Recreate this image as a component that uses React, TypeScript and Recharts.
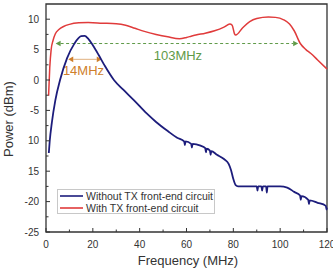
import { LineChart, Line, XAxis, YAxis, Legend, ReferenceArea, ReferenceLine } from "recharts"

// Spectrum without the TX front-end circuit (frequency MHz, power dBm)
const withoutFreq = [
  1.2, 1.6, 2.5, 4, 6, 9, 12, 15, 16.5, 18, 20, 22.5, 25, 29, 33, 37.5, 43, 47, 52, 56,
  59, 59.3, 59.6, 62, 62.3, 62.6, 66, 68, 68.3, 68.6, 70, 70.3, 70.6, 73, 76, 78, 79, 80, 81, 82,
  88, 90, 90.3, 90.6, 92, 92.3, 92.6, 94, 94.3, 94.6, 100, 103, 106, 108.5, 108.8, 109.1,
  112, 112.3, 112.6, 116, 119.5, 119.8, 120,
]
const withoutPower = [
  -12, -10, -7, -3.3, 0, 3.6, 5.9, 7.2, 7.25, 6.8, 5.7, 4.1, 2.4, 0, -1.6, -3.3, -5.5, -6.9, -8.4, -9.5,
  -10.1, -10.7, -10.1, -10.5, -11.1, -10.5, -10.8, -11.2, -11.9, -11.3, -11.6, -12.3, -11.7, -12.3, -13, -13.8, -14.8, -16.3, -17.3, -17.5,
  -17.5, -17.5, -18.2, -17.5, -17.5, -18.2, -17.5, -17.5, -18.5, -17.5, -17.5, -17.7, -18.4, -19, -19.7, -19.1,
  -19.7, -20.4, -19.8, -20.2, -20.7, -21.3, -21,
]

// Spectrum with the TX front-end circuit
const withFreq = [
  1.1, 1.6, 2.2, 3, 4, 5.5, 7.5, 10, 14, 18, 24, 30, 34, 38, 42, 47, 52, 57, 60, 62, 64, 68, 72, 76,
  78.5, 79.5, 80.5, 81, 84, 87, 90, 95, 98, 101.5, 104, 106, 108.6, 111, 113, 116, 120,
]
const withPower = [
  -2.6, 2, 5, 6.5, 7.6, 8.3, 8.8, 9.15, 9.4, 9.45, 9.35, 9.25, 9.0, 8.5, 8.0, 7.5, 7.1, 6.8, 7.0, 7.2, 7.4, 7.7, 8.1, 8.7,
  9.2, 9.0, 7.6, 7.4, 8.6, 9.6, 10.1, 10.35, 10.3, 9.9, 9.2, 8.1, 6.0, 5.0, 4.4, 3.3, 1.8,
]

const xTicks = [0, 10, 20, 30, 40, 50, 60, 70, 80, 90, 100, 110, 120]
const yTicks = [-25, -22.5, -20, -17.5, -15, -12.5, -10, -7.5, -5, -2.5, 0, 2.5, 5, 7.5, 10]
// tick text as printed in the figure (the minus is missing on two of them)
const yTickText: Record<number, string> = {
  10: "10", 5: "5", 0: "0", [-5]: "-5", [-10]: "10", [-15]: "15", [-20]: "-20", [-25]: "-25",
}

// bandwidth annotations: [start MHz, end MHz, level dBm]
const bw103 = [4.1, 107.7, 6.0]
const bw14 = [9.5, 23.8, 3.4]

const withoutData = withoutFreq.map((f, i) => ({ freq: f, power: withoutPower[i] }))
const withData = withFreq.map((f, i) => ({ freq: f, power: withPower[i] }))

const series = [
  { name: "Without TX front-end circuit", color: "#1d1d7c", data: withoutData, width: 1.8 },
  { name: "With TX front-end circuit", color: "#e03b3b", data: withData, width: 1.5 },
]

const font = "'Liberation Sans', Arial, sans-serif"
const axisColor = "#333"

function XTick(props: any) {
  const { x, y, payload } = props
  const major = payload.value % 20 === 0
  return (
    <g>
      <line x1={x} y1={y} x2={x} y2={y - (major ? 4 : 2.5)} stroke={axisColor} strokeWidth={1} />
      {major && (
        <text x={x} y={y + 16} textAnchor="middle" fontSize={10} fill={axisColor} fontFamily={font}>
          {payload.value}
        </text>
      )}
    </g>
  )
}

function YTick(props: any) {
  const { x, y, payload } = props
  const major = payload.value % 5 === 0
  return (
    <g>
      <line x1={x} y1={y} x2={x + (major ? 4 : 2.5)} y2={y} stroke={axisColor} strokeWidth={1} />
      {major && (
        <text x={x - 7} y={y + 3.5} textAnchor="end" fontSize={10} fill={axisColor} fontFamily={font}>
          {yTickText[payload.value] ?? payload.value}
        </text>
      )}
    </g>
  )
}

function arrowShape(color: string, text: string, dashed: boolean, textDx: number) {
  return (p: any) => {
    const { x1, y1, x2, y2 } = p
    const h = 5
    const hw = 2.8
    return (
      <g>
        <line x1={x1 + h} y1={y1} x2={x2 - h} y2={y2} stroke={color} strokeWidth={1}
          strokeDasharray={dashed ? "3 2.5" : undefined} opacity={dashed ? 1 : 0.6} />
        <polygon points={`${x1},${y1} ${x1 + h},${y1 - hw} ${x1 + h},${y1 + hw}`} fill={color} />
        <polygon points={`${x2},${y2} ${x2 - h},${y2 - hw} ${x2 - h},${y2 + hw}`} fill={color} />
        <text x={(x1 + x2) / 2 + textDx} y={y1 + 16} textAnchor="middle" fontSize={13}
          fill={color} fontFamily={font}>
          {text}
        </text>
      </g>
    )
  }
}

function LegendBox() {
  return (
    <div style={{ border: "1px solid #c8c8c8", background: "#fff", width: 156, height: 23,
      fontFamily: font, fontSize: 10.5, color: "#333", lineHeight: "13px" }}>
      {series.map(s => (
        <div key={s.name} style={{ display: "flex", alignItems: "center", height: 12 }}>
          <svg width={28} height={12}>
            <line x1={2} y1={6} x2={25} y2={6} stroke={s.color} strokeWidth={1.6} />
          </svg>
          <span>{s.name}</span>
        </div>
      ))}
    </div>
  )
}

export default function App() {
  return (
    <div style={{ position: "absolute", left: 0, top: 0, width: 333, height: 269, background: "#fff" }}>
      <LineChart width={333} height={269} margin={{ top: 4, right: 6, left: 0, bottom: 0 }}>
        <XAxis
          dataKey="freq"
          type="number"
          domain={[0, 120]}
          ticks={xTicks}
          interval={0}
          axisLine={false}
          tickLine={false}
          tickSize={0}
          tickMargin={0}
          tick={<XTick />}
          height={37}
          allowDuplicatedCategory={false}
          label={{
            content: () => (
              <text x={188} y={265} textAnchor="middle" fontSize={13}
                fill={axisColor} fontFamily={font}>
                Frequency (MHz)
              </text>
            ),
          }}
        />
        <YAxis
          type="number"
          domain={[-25, 12.5]}
          ticks={yTicks}
          interval={0}
          axisLine={false}
          tickLine={false}
          tickSize={0}
          tickMargin={0}
          tick={<YTick />}
          width={46}
          label={{
            content: () => (
              <text x={13} y={119} transform="rotate(-90 13 119)" textAnchor="middle"
                fontSize={13} fill={axisColor} fontFamily={font}>
                Power (dBm)
              </text>
            ),
          }}
        />
        <ReferenceArea x1={0} x2={120} y1={-25} y2={12.5} fill="none" fillOpacity={0}
          stroke={axisColor} strokeWidth={1.3} />
        <ReferenceLine
          segment={[{ x: bw103[0], y: bw103[2] }, { x: bw103[1], y: bw103[2] }]}
          shape={arrowShape("#5f9a48", "103MHz", true, 1)}
        />
        <ReferenceLine
          segment={[{ x: bw14[0], y: bw14[2] }, { x: bw14[1], y: bw14[2] }]}
          shape={arrowShape("#cf7f2c", "14MHz", false, -1.5)}
        />
        {series.map(s => (
          <Line
            key={s.name}
            data={s.data}
            dataKey="power"
            name={s.name}
            type="monotone"
            stroke={s.color}
            strokeWidth={s.width}
            dot={false}
            isAnimationActive={false}
          />
        ))}
        <Legend
          layout="vertical"
          align="center"
          verticalAlign="middle"
          wrapperStyle={{ left: 57, top: 189, width: 158, height: 25 }}
          content={() => <LegendBox />}
        />
      </LineChart>
    </div>
  )
}
